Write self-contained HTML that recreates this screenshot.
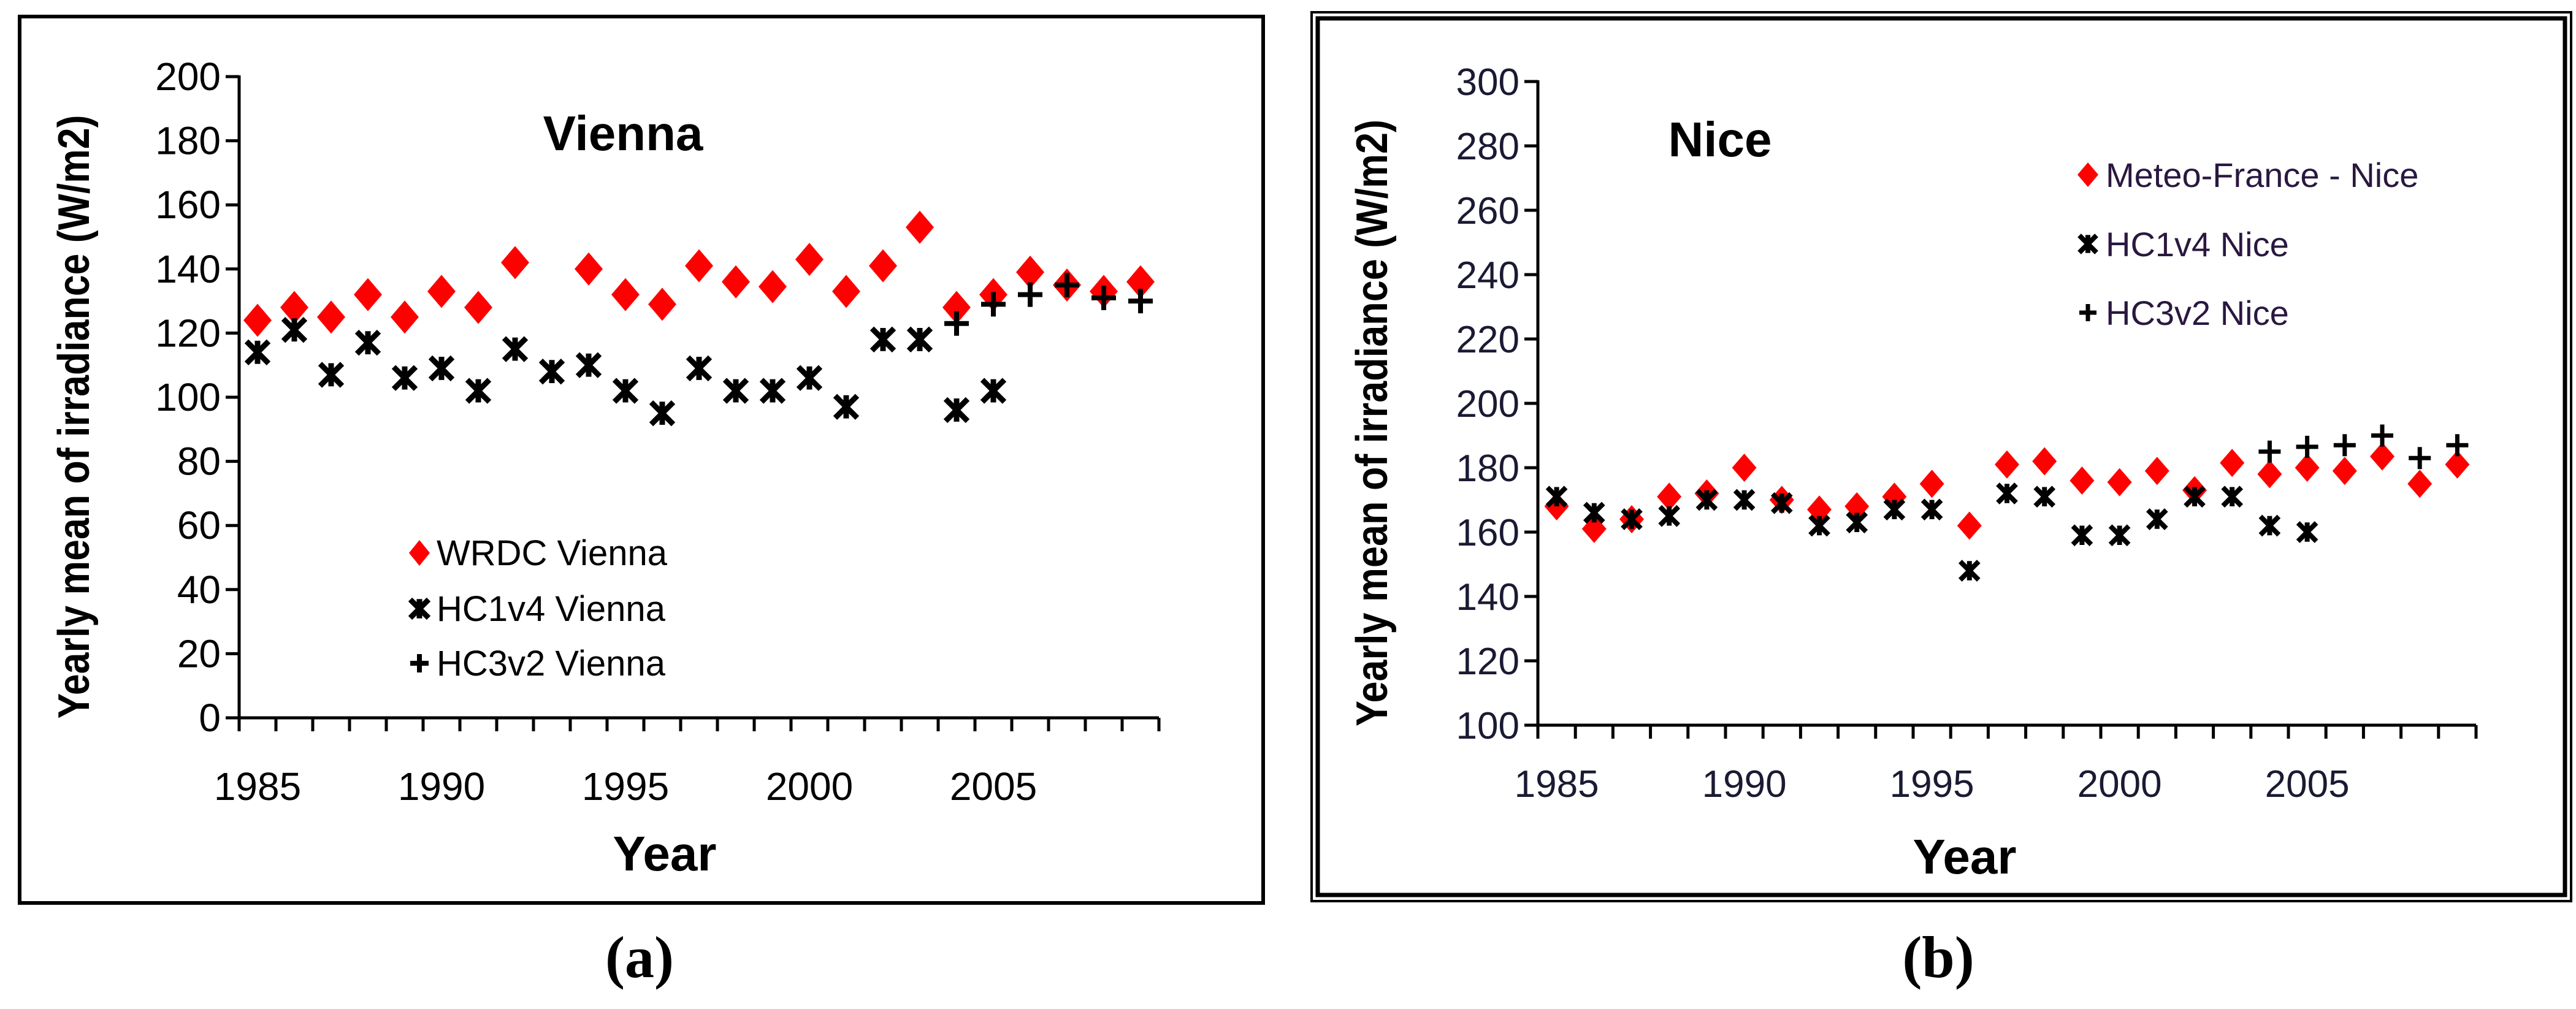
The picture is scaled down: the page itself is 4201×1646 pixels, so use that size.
<!DOCTYPE html>
<html><head><meta charset="utf-8"><style>
html,body{margin:0;padding:0;background:#fff;}
svg{display:block;}
text{font-family:"Liberation Sans",Arial,sans-serif;}
</style></head>
<body>
<svg id="fig" width="4201" height="1646" viewBox="0 0 4201 1646" xmlns="http://www.w3.org/2000/svg">
<rect x="0" y="0" width="4201" height="1646" fill="#fff"/>
<rect x="32" y="27" width="2028" height="1446" fill="none" stroke="#000" stroke-width="6"/>
<rect x="2139" y="20" width="2054" height="1450" fill="none" stroke="#000" stroke-width="4"/>
<rect x="2149" y="30" width="2034" height="1430" fill="none" stroke="#000" stroke-width="7"/>
<g id="chartA"></g>
<g id="chartB"></g>
<text x="1043" y="1594" text-anchor="middle" font-weight="bold" font-size="96" style="font-family:'Liberation Serif',serif">(a)</text>
<text x="3161" y="1594" text-anchor="middle" font-weight="bold" font-size="96" style="font-family:'Liberation Serif',serif">(b)</text>
</svg>
<script>
// ---- data ----
const years = [1985,1986,1987,1988,1989,1990,1991,1992,1993,1994,1995,1996,1997,1998,1999,2000,2001,2002,2003,2004,2005,2006,2007,2008,2009];
const tickYears = [1985,1990,1995,2000,2005];
const viennaWRDC = [124,128,125,132,125,133,128,142,null,140,132,129,141,136,134.5,143,133,141,153,128,132,139,135,133,136];
const viennaHC1 = [114,121,107,117,106,109,102,115,108,110,102,95,109,102,102,106,97,118,118,96,102,null,null,null,null];
const viennaHC3 = [null,null,null,null,null,null,null,null,null,null,null,null,null,null,null,null,null,null,null,123,129,132,135,131,130];
const viennaTicks = [0,20,40,60,80,100,120,140,160,180,200];
const niceMeteo = [168,161,164,171,172,180,170,167,168,171,175,162,181,182,176,175.5,179,173,181.5,178,180,179,183.5,175,181];
const niceHC1 = [171,166,164,165,170,170,169,162,163,167,167,148,172,171,159,159,164,171,171,162,160,null,null,null,null];
const niceHC3 = [null,null,null,null,null,null,null,null,null,null,null,null,null,null,null,null,null,null,null,185,186.5,187,190,183,187];
const niceTicks = [100,120,140,160,180,200,220,240,260,280,300];

const NS = "http://www.w3.org/2000/svg";
function mk(parent, tag, attrs){
  const e = document.createElementNS(NS, tag);
  for (const k in attrs) e.setAttribute(k, attrs[k]);
  parent.appendChild(e);
  return e;
}
function diamond(g, cx, cy, w, h){
  return mk(g, 'polygon', {points:`${cx},${cy-h/2} ${cx+w/2},${cy} ${cx},${cy+h/2} ${cx-w/2},${cy}`, fill:'#ff0000'});
}
function star(g, cx, cy, s, sw){
  const gg = mk(g, 'g', {stroke:'#000','stroke-width':sw,fill:'none'});
  mk(gg,'line',{x1:cx-s,y1:cy-s,x2:cx+s,y2:cy+s});
  mk(gg,'line',{x1:cx-s,y1:cy+s,x2:cx+s,y2:cy-s});
  mk(gg,'line',{x1:cx,y1:cy-s*1.05,x2:cx,y2:cy+s*1.05});
  return gg;
}
function plus(g, cx, cy, s, sw){
  const gg = mk(g, 'g', {stroke:'#000','stroke-width':sw,fill:'none'});
  mk(gg,'line',{x1:cx-s,y1:cy,x2:cx+s,y2:cy});
  mk(gg,'line',{x1:cx,y1:cy-s,x2:cx,y2:cy+s});
  return gg;
}

function drawChart(g, cfg){
  const {x0, x1, yTop, yBot, vMin, vMax, ticks, s1, s2, s3} = cfg;
  const bw = (x1 - x0) / years.length;
  const xs = i => x0 + bw*(i+0.5);
  const ys = v => yBot - (v - vMin)/(vMax - vMin)*(yBot - yTop);
  const ax = mk(g,'g',{stroke:'#000','stroke-width':5});
  
  
  mk(ax,'line',{x1:x0,y1:yTop-2,x2:x0,y2:yBot});
  mk(ax,'line',{x1:x0-22,y1:yBot,x2:x1,y2:yBot});
  ticks.forEach(t=>{
    const y = ys(t);
    mk(ax,'line',{x1:x0-22,y1:y,x2:x0,y2:y});
    const lb = mk(g,'text',{x:x0-30,y:y+22,'text-anchor':'end','font-size':cfg.tickFont,fill:cfg.tickColor});
    lb.textContent = t;
    
    
  });
  for (let i=0;i<=years.length;i++){
    const x = x0 + bw*i;
    mk(ax,'line',{x1:x,y1:yBot,x2:x,y2:yBot+22});
  }
  tickYears.forEach(yr=>{
    const i = years.indexOf(yr);
    const lb = mk(g,'text',{x:xs(i),y:cfg.xLabY,'text-anchor':'middle','font-size':cfg.tickFont,fill:cfg.tickColor});
    lb.textContent = yr;
    
    
  });
  const g1 = mk(g,'g',{});  
  const g2 = mk(g,'g',{});  
  const g3 = mk(g,'g',{});  
  s2.forEach((v,i)=>{ if(v==null) return;
    const m = star(g2, xs(i), ys(v), cfg.starS, cfg.starW);
    
    
  });
  s1.forEach((v,i)=>{ if(v==null) return;
    const m = diamond(g1, xs(i), ys(v), cfg.dW, cfg.dH);
    
    
  });
  s3.forEach((v,i)=>{ if(v==null) return;
    const m = plus(g3, xs(i), ys(v), cfg.plusS, cfg.plusW);
    
    
  });
  const t = mk(g,'text',{x:cfg.titleX,y:cfg.titleY,'text-anchor':'middle','font-size':80,'font-weight':'bold',fill:'#000'});
  t.textContent = cfg.title;
  
  
  const xt = mk(g,'text',{x:cfg.xTitleX,y:cfg.xTitleY,'text-anchor':'middle','font-size':80,'font-weight':'bold',fill:'#000'});
  xt.textContent = 'Year';
  
  
  const yt = mk(g,'text',{x:0,y:0,'text-anchor':'middle','font-size':72,'font-weight':'bold',fill:'#000',
    textLength:cfg.yTitleLen,lengthAdjust:'spacingAndGlyphs',
    transform:`translate(${cfg.yTitleX},${cfg.yTitleY}) rotate(-90)`});
  yt.textContent = 'Yearly mean of irradiance (W/m2)';
  
  
  const lg = mk(g,'g',{});
  
  
  cfg.legend.forEach((name,k)=>{
    const ly = cfg.legY[k];
    let m;
    if(k===0) m = diamond(lg, cfg.legMX, ly, cfg.legDW, cfg.legDH);
    else if(k===1) m = star(lg, cfg.legMX, ly, cfg.legS, cfg.starW);
    else m = plus(lg, cfg.legMX, ly, cfg.legS, cfg.plusW);
    
    
    const tx = mk(lg,'text',{x:cfg.legTX,y:ly+20,'font-size':cfg.legFont,fill:cfg.legColor});
    tx.textContent = name;
    
    
  });
}

drawChart(document.getElementById('chartA'), {
  x0:390, x1:1890, yTop:125, yBot:1171, vMin:0, vMax:200, ticks:viennaTicks,
  s1:viennaWRDC, s2:viennaHC1, s3:viennaHC3, tickFont:64, tickColor:'#000', xLabY:1305,
  dW:46, dH:54, starS:18, starW:9, plusS:20, plusW:8,
  title:'Vienna', titleX:1016, titleY:245, xTitleX:1084, xTitleY:1420,
  yTitleX:145, yTitleY:680, yTitleLen:985,
  legend:['WRDC Vienna','HC1v4 Vienna','HC3v2 Vienna'], legY:[902,993,1082],
  legMX:684, legTX:712, legFont:58, legColor:'#000', legDW:34, legDH:42, legS:15
});
drawChart(document.getElementById('chartB'), {
  x0:2508, x1:4038, yTop:133, yBot:1183, vMin:100, vMax:300, ticks:niceTicks,
  s1:niceMeteo, s2:niceHC1, s3:niceHC3, tickFont:62, tickColor:'#1a1a33', xLabY:1300,
  dW:40, dH:46, starS:15, starW:8, plusS:18, plusW:7,
  title:'Nice', titleX:2805, titleY:255, xTitleX:3204, xTitleY:1425,
  yTitleX:2262, yTitleY:690, yTitleLen:990,
  legend:['Meteo-France - Nice','HC1v4 Nice','HC3v2 Nice'], legY:[285,398,510],
  legMX:3405, legTX:3434, legFont:56, legColor:'#2a1840', legDW:34, legDH:40, legS:14
});
</script>
</body></html>
